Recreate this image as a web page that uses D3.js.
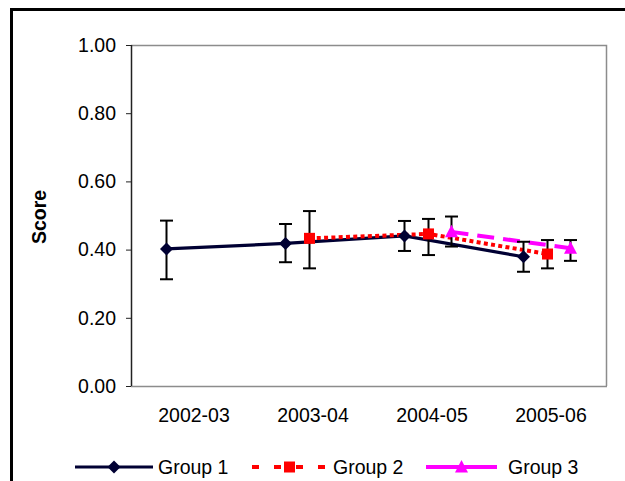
<!DOCTYPE html>
<html>
<head>
<meta charset="utf-8">
<script src="https://cdn.jsdelivr.net/npm/d3@7"></script>
<style>
  body { margin: 0; background: #fff; }
  svg text { font-family: "Liberation Sans", Arial, sans-serif; }
</style>
</head>
<body>
<div id="chart-area"></div>
<script>
// data
const categories = ["2002-03", "2003-04", "2004-05", "2005-06"]
const yTicks = [0, 0.2, 0.4, 0.6, 0.8, 1.0]

const group1 = [0.402, 0.418, 0.440, 0.379]
const group1Hi = [0.485, 0.475, 0.484, 0.423]
const group1Lo = [0.313, 0.363, 0.396, 0.335]

const group2 = [null, 0.433, 0.446, 0.387]
const group2Hi = [null, 0.513, 0.490, 0.428]
const group2Lo = [null, 0.345, 0.384, 0.345]

const group3 = [null, null, 0.452, 0.404]
const group3Hi = [null, null, 0.497, 0.428]
const group3Lo = [null, null, 0.409, 0.367]

const seriesNames = ["Group 1", "Group 2", "Group 3"]

const W = 625, H = 481
const margin = { top: 45, right: 18, bottom: 95, left: 131 }
const innerW = W - margin.left - margin.right
const innerH = H - margin.top - margin.bottom

const svg = d3.select('#chart-area').append('svg')
    .attr('width', W).attr('height', H)

// outer chart frame (runs off the page right and bottom)
svg.append('rect')
    .attr('x', 11.5).attr('y', 9.5)
    .attr('width', 700).attr('height', 600)
    .attr('fill', 'none').attr('stroke', '#000').attr('stroke-width', 3)

const g = svg.append('g').attr('transform', `translate(${margin.left},${margin.top})`)

const x = d3.scalePoint().domain(categories).range([0, innerW]).padding(0.5)
const y = d3.scaleLinear().domain([0, 1]).range([innerH, 0])

// plot frame top/right
g.append('path')
    .attr('d', `M0,0.5H${innerW - 0.5}V${innerH}`)
    .attr('fill', 'none').attr('stroke', '#8c8c8c').attr('stroke-width', 1.5)

// x axis line
g.append('line')
    .attr('x1', 0).attr('x2', innerW)
    .attr('y1', innerH + 0.5).attr('y2', innerH + 0.5)
    .attr('stroke', '#8c8c8c').attr('stroke-width', 1.5)

// y axis
const yAxis = g.append('g')
    .call(d3.axisLeft(y).tickValues(yTicks).tickFormat(d3.format('.2f')).tickSize(5).tickPadding(10))
yAxis.select('.domain').remove()
yAxis.append('line').attr('x1', 0.5).attr('x2', 0.5).attr('y1', 0).attr('y2', innerH)
    .attr('stroke', '#222').attr('stroke-width', 1.5)
yAxis.selectAll('.tick line').attr('stroke', '#222')
yAxis.selectAll('.tick text')
    .attr('font-size', '19.5px').attr('fill', '#000')
    .attr('font-family', '"Liberation Sans", Arial, sans-serif')

// x labels
g.selectAll('.xlab').data(categories).enter().append('text')
    .attr('class', 'xlab')
    .attr('x', d => x(d) + 3.5)
    .attr('y', innerH + 35.5)
    .attr('text-anchor', 'middle')
    .attr('font-size', '19.5px')
    .text(d => d)

// y title
svg.append('text')
    .attr('transform', 'translate(45.5,217) rotate(-90)')
    .attr('text-anchor', 'middle')
    .attr('font-size', '19.5px').attr('font-weight', 'bold')
    .text('Score')

const series = [
    { name: seriesNames[0], values: group1, hi: group1Hi, lo: group1Lo, color: '#000033', dash: null, width: 3.2, marker: 'diamond', offset: -24 },
    { name: seriesNames[1], values: group2, hi: group2Hi, lo: group2Lo, color: '#ff0000', dash: '4,3.3', width: 4, marker: 'square', offset: 0 },
    { name: seriesNames[2], values: group3, hi: group3Hi, lo: group3Lo, color: '#ff00ff', dash: '17,9', width: 4, marker: 'triangle', offset: 23 }
]

const markerPath = {
    diamond: 'M0,-6.5L6.5,0L0,6.5L-6.5,0Z',
    square: 'M-5.5,-5.5H5.5V5.5H-5.5Z',
    triangle: 'M0,-7L6.5,5.5H-6.5Z'
}

const pts = s => categories.map((c, i) => ({ c: c, v: s.values[i], hi: s.hi[i], lo: s.lo[i], off: s.offset }))
    .filter(d => d.v != null)

// lines
series.forEach(s => {
    const line = d3.line().x(d => x(d.c) + d.off).y(d => y(d.v))
    g.append('path').datum(pts(s))
        .attr('d', line)
        .attr('fill', 'none')
        .attr('stroke', s.color)
        .attr('stroke-width', s.width)
        .attr('stroke-dasharray', s.dash)
})

// error bars
series.forEach(s => {
    const eg = g.append('g').selectAll('g').data(pts(s)).enter().append('g')
        .attr('transform', d => `translate(${x(d.c) + d.off},0)`)
        .attr('stroke', '#000').attr('stroke-width', 2)
    eg.append('line').attr('x1', 0).attr('x2', 0).attr('y1', d => y(d.hi)).attr('y2', d => y(d.lo))
    eg.append('line').attr('x1', -6.5).attr('x2', 6.5).attr('y1', d => y(d.hi)).attr('y2', d => y(d.hi))
    eg.append('line').attr('x1', -6.5).attr('x2', 6.5).attr('y1', d => y(d.lo)).attr('y2', d => y(d.lo))
})

// markers
series.forEach(s => {
    g.append('g').selectAll('path').data(pts(s)).enter().append('path')
        .attr('transform', d => `translate(${x(d.c) + d.off},${y(d.v)})`)
        .attr('d', markerPath[s.marker])
        .attr('fill', s.color)
})

// legend
const legendY = 467
const legendItems = [
    { s: series[0], x0: 75, x1: 153, tx: 158, dash: null },
    { s: series[1], x0: 252, x1: 327, tx: 333, dash: '7,15' },
    { s: series[2], x0: 426, x1: 497, tx: 508, dash: null }
]
const lg = svg.append('g')
legendItems.forEach(it => {
    lg.append('line')
        .attr('x1', it.x0).attr('x2', it.x1)
        .attr('y1', legendY).attr('y2', legendY)
        .attr('stroke', it.s.color).attr('stroke-width', it.s.width)
        .attr('stroke-dasharray', it.dash)
    lg.append('path')
        .attr('transform', `translate(${(it.x0 + it.x1) / 2},${legendY})`)
        .attr('d', markerPath[it.s.marker])
        .attr('fill', it.s.color)
    lg.append('text')
        .attr('x', it.tx).attr('y', legendY + 7)
        .attr('font-size', '19.5px')
        .text(it.s.name)
})
</script>
</body>
</html>
